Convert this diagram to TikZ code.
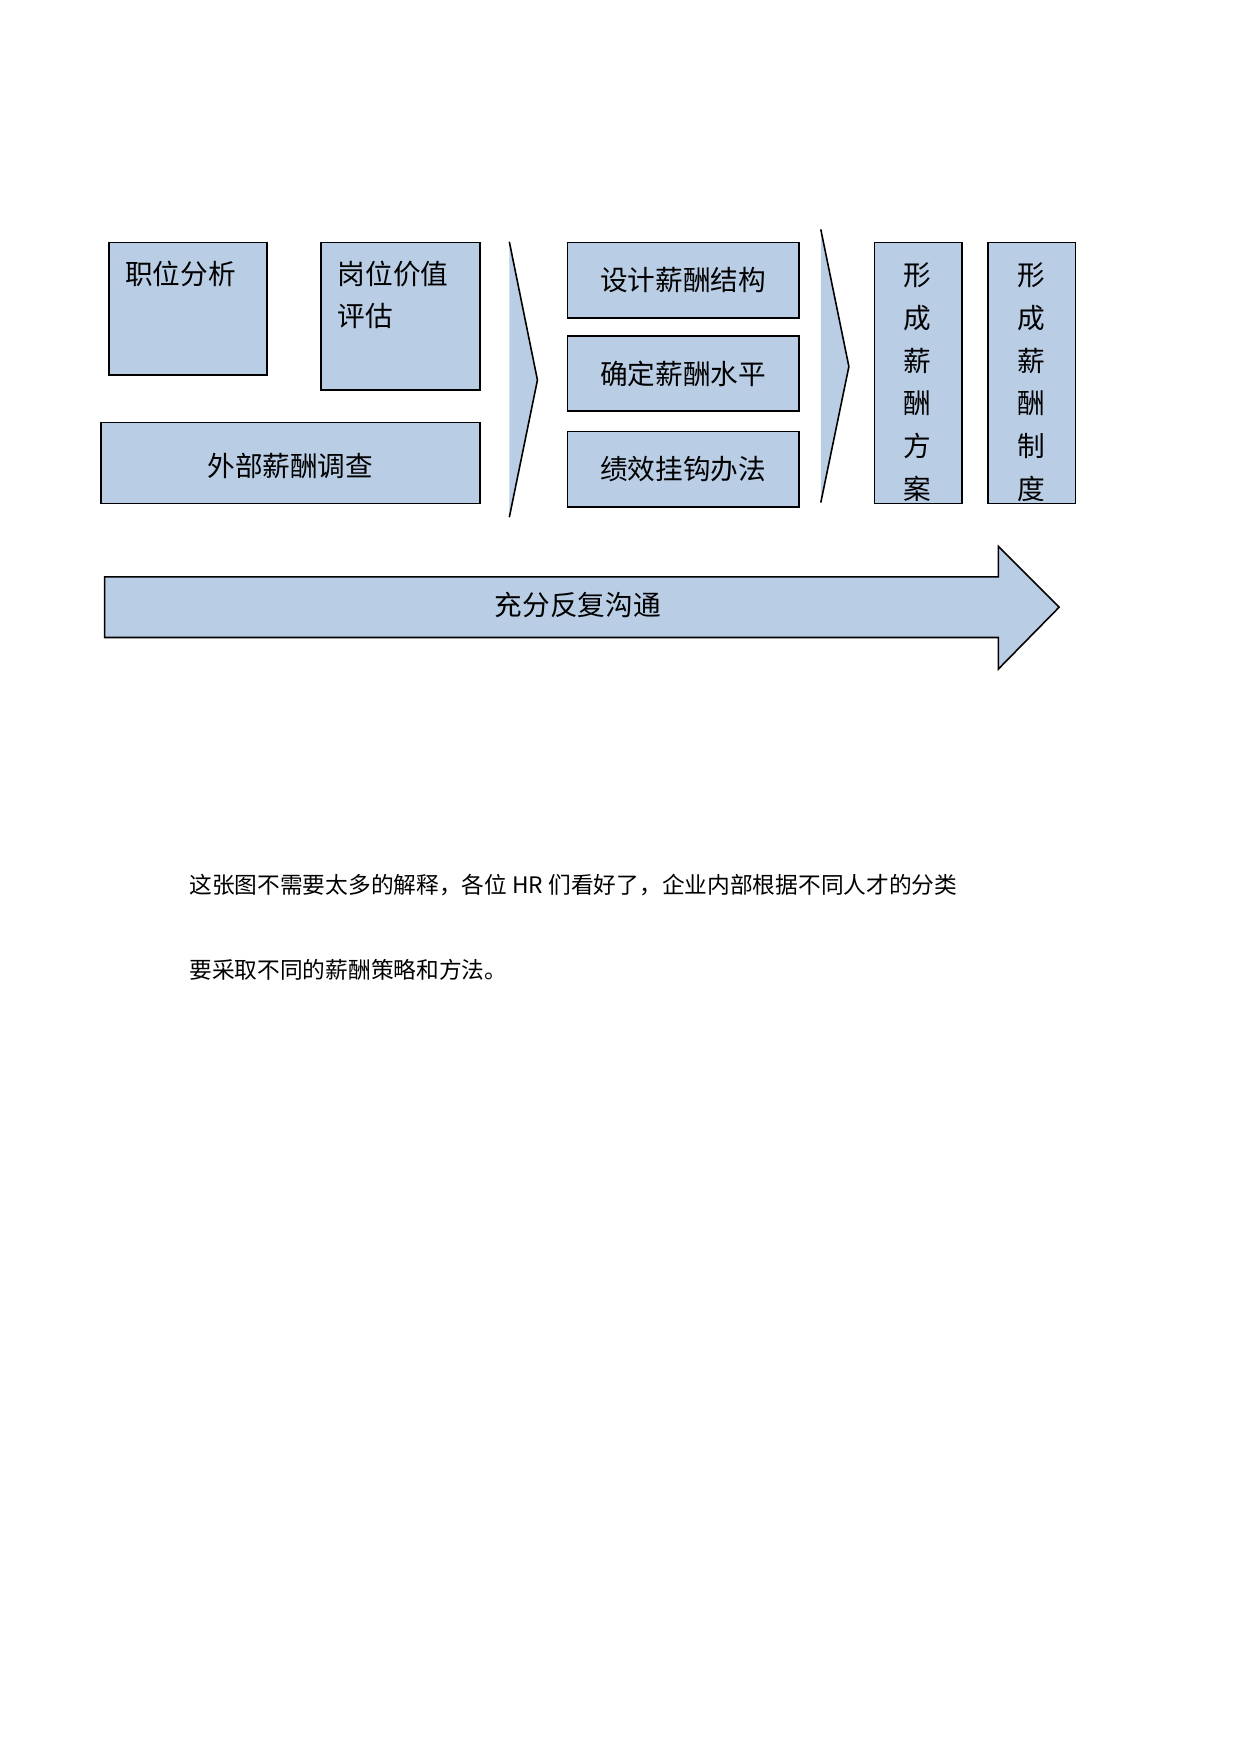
\documentclass[tikz,border=0pt]{standalone}
\usepackage{fontspec}
\setmainfont{Noto Sans CJK SC}
\definecolor{boxblue}{HTML}{B9CDE5}
\begin{document}
\begin{tikzpicture}[x=0.02cm,y=-0.02cm,
  blk/.style={draw=black,fill=boxblue,line width=0.8pt,inner sep=0pt,font=\fontsize{14}{14}\selectfont},
  txt/.style={font=\fontsize{14}{14}\selectfont,anchor=north west,inner sep=0pt}]
\useasboundingbox (0,0) rectangle (1103,1560);
% left column
\node (zw) [blk,minimum width=141*0.02cm,minimum height=118*0.02cm,anchor=north west] at (96,215) {};
\node [txt] at (111,232) {职位分析};
\node (gw) [blk,minimum width=141*0.02cm,minimum height=131*0.02cm,anchor=north west] at (285,215) {};
\node [txt,align=left] at (300,232) {岗位价值\\[0.25cm]评估};
\node (wb) [blk,minimum width=337*0.02cm,minimum height=72*0.02cm,anchor=north west] at (89,375) {};
\node at (wb) [font=\fontsize{14}{14}\selectfont,yshift=-0.05cm] {外部薪酬调查};
% chevrons
\draw[fill=boxblue,line width=0.8pt] (453,215) -- (478,338) -- (453,460);
\draw[fill=boxblue,line width=0.8pt] (730,204) -- (755,326) -- (730,447);
% middle column
\foreach \n/\y/\t in {sj/215/设计薪酬结构, qd/298/确定薪酬水平, jx/383/绩效挂钩办法}{
  \node (\n) [blk,minimum width=206*0.02cm,minimum height=67*0.02cm,anchor=north west] at (504,\y) {\t};
}
% vertical boxes
\foreach \n/\x/\t in {fa/777/{形,成,薪,酬,方,案}, zd/878/{形,成,薪,酬,制,度}}{
  \node (\n) [blk,minimum width=78*0.02cm,minimum height=232*0.02cm,anchor=north west] at (\x,215) {};
  \begin{scope}
    \clip (\x,215) rectangle ++(78,230);
    \foreach \c [count=\i] in \t
      \node [font=\fontsize{14}{14}\selectfont,inner sep=0pt] at (\x+39,245+38*\i-38) {\c};
  \end{scope}
}
% big arrow
\draw[fill=boxblue,line width=0.8pt] (93,513) -- (888,513) -- (888,486) -- (942,540) -- (888,595) -- (888,567) -- (93,567) -- cycle;
\node (gt) [font=\fontsize{14}{14}\selectfont] at (514,538) {充分反复沟通};
% paragraph
\node [txt,font=\fontsize{11.5}{11.5}\selectfont] at (168,777) {这张图不需要太多的解释，各位 HR 们看好了，企业内部根据不同人才的分类};
\node [txt,font=\fontsize{11.5}{11.5}\selectfont] at (168,853) {要采取不同的薪酬策略和方法。};
\end{tikzpicture}
\end{document}
